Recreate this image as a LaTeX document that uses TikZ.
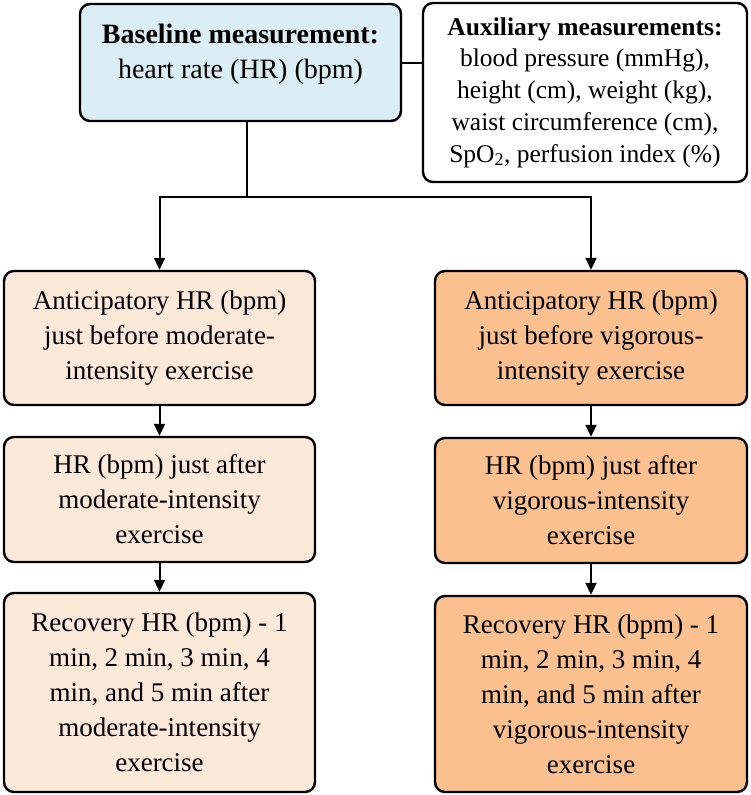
\documentclass[tikz,border=0pt]{standalone}
\usepackage{fontspec}
\setmainfont{Liberation Serif}
\definecolor{basefill}{RGB}{218, 238, 243}
\definecolor{modfill}{RGB}{253, 233, 217}
\definecolor{vigfill}{RGB}{250, 192, 144}
\usetikzlibrary{arrows.meta, calc}
\tikzset{
    basebox/.style={rectangle, rounded corners=10pt, draw=black, line width=2.4pt, fill=basefill,
                    minimum width=321pt, minimum height=117pt, align=center, font=\fontsize{28}{35}\selectfont},
    auxbox/.style={rectangle, rounded corners=10pt, draw=black, line width=2.4pt, fill=white,
                   minimum width=324pt, minimum height=179pt, align=center, font=\fontsize{25.5}{31.7}\selectfont},
    modbox/.style={rectangle, rounded corners=10pt, draw=black, line width=2.4pt, fill=modfill,
                   minimum width=311pt, align=center, font=\fontsize{27}{35}\selectfont},
    vigbox/.style={modbox, fill=vigfill, minimum width=312pt},
    line/.style={line width=2pt, black},
    arrow/.style={-{Triangle[length=12pt, width=11pt]}, line width=2pt, black},
}

\begin{document}
\begin{tikzpicture}[x=1pt, y=-1pt]
            \useasboundingbox (0, 0) rectangle (750, 795);
            \node[basebox] (base) at (240.5, 62.5) {\textbf{Baseline measurement:}\\heart rate (HR) (bpm)\\[-12pt]};
            \node[auxbox] (aux) at (585, 92.5) {\textbf{Auxiliary measurements:}\\blood pressure (mmHg),\\height (cm), weight (kg),\\waist circumference (cm),\\SpO\textsubscript{2}, perfusion index (\%)};
            
            \node[modbox, minimum height=134pt] (mod1) at (159.5, 338) {Anticipatory HR (bpm)\\just before moderate-\\intensity exercise};
            \node[modbox, minimum height=125pt] (mod2) at (159.5, 499.5) {HR (bpm) just after\\moderate-intensity\\exercise};
            \node[modbox, minimum height=199pt] (mod3) at (159.5, 692.5) {Recovery HR (bpm) - 1\\min, 2 min, 3 min, 4\\min, and 5 min after\\moderate-intensity\\exercise};
            
            \node[vigbox, minimum height=134pt] (vig1) at (591, 338) {Anticipatory HR (bpm)\\just before vigorous-\\intensity exercise};
            \node[vigbox, minimum height=125pt] (vig2) at (591, 500.5) {HR (bpm) just after\\vigorous-intensity\\exercise};
            \node[vigbox, minimum height=196pt] (vig3) at (591, 694) {Recovery HR (bpm) - 1\\min, 2 min, 3 min, 4\\min, and 5 min after\\vigorous-intensity\\exercise};
            
            \coordinate (split) at (247, 197);
            
            \draw[line] (base.east) -- (base.east -| aux.west);
            \draw[line] (base.south -| split) -- (split);
            \draw[arrow] (split) -| (mod1.north);
            \draw[arrow] (split) -| (vig1.north);
            
            \draw[arrow] (mod1) -- (mod2);
            \draw[arrow] (mod2) -- (mod3);
            \draw[arrow] (vig1) -- (vig2);
            \draw[arrow] (vig2) -- (vig3);
        \end{tikzpicture}
\end{document}
